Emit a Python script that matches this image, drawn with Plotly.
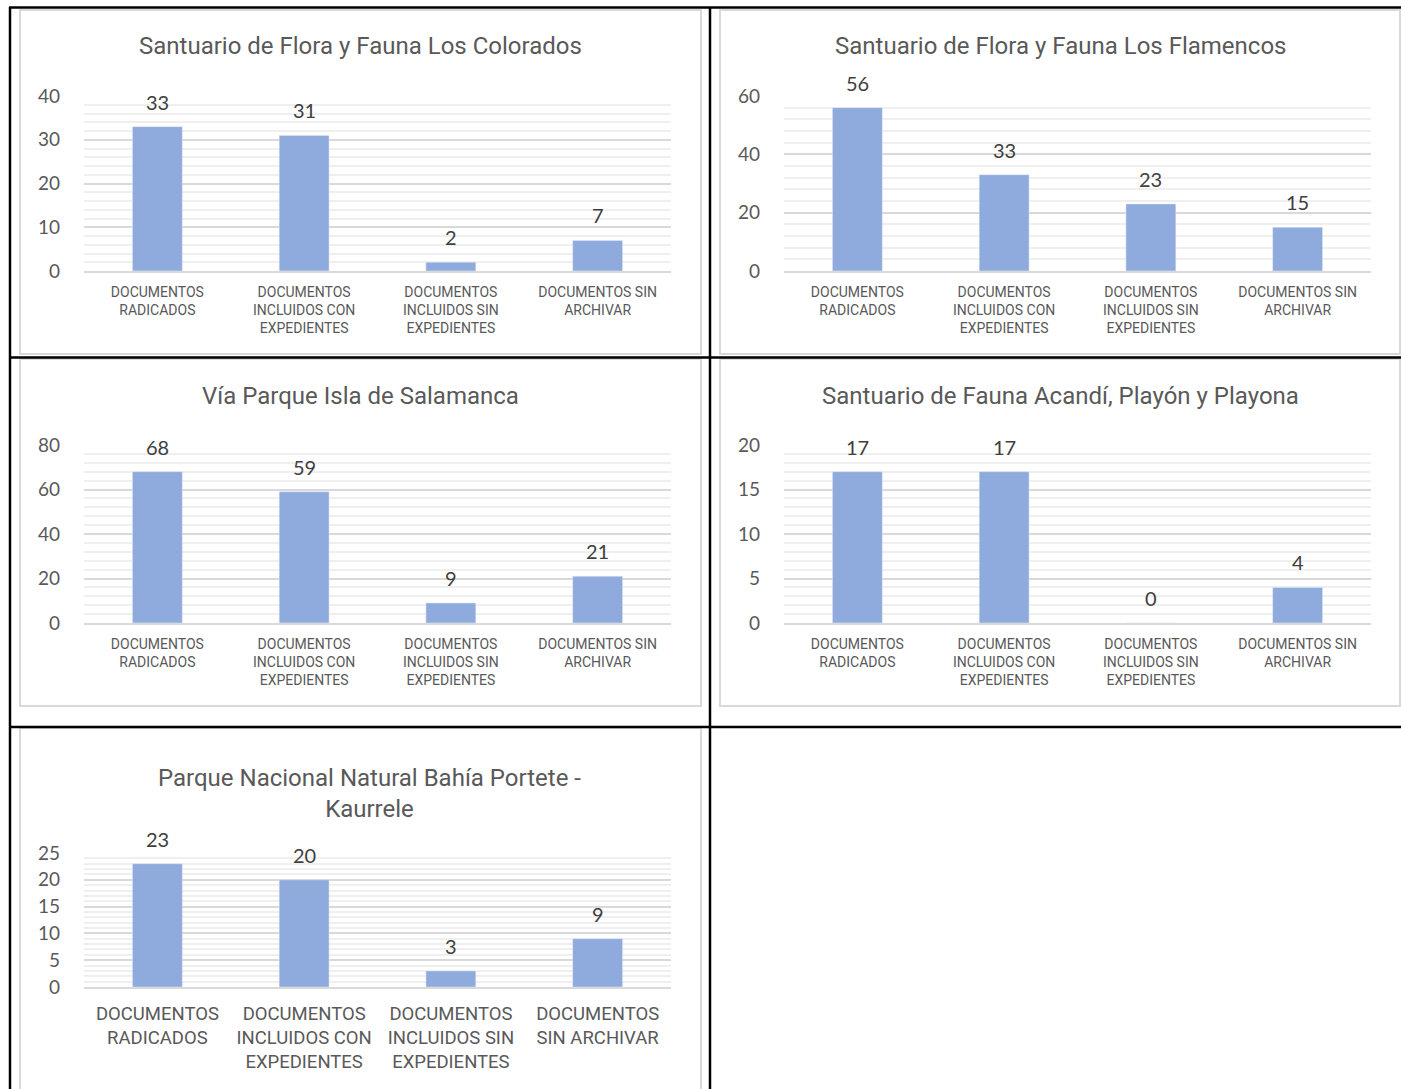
import plotly.graph_objects as go

W, H = 1401, 1089

# data
titles = [
    "Santuario de Flora y Fauna Los Colorados",
    "Santuario de Flora y Fauna Los Flamencos",
    "Vía Parque Isla de Salamanca",
    "Santuario de Fauna Acandí, Playón y Playona",
    "Parque Nacional Natural Bahía Portete -<br>Kaurrele",
]
categories = [
    "DOCUMENTOS<br>RADICADOS",
    "DOCUMENTOS<br>INCLUIDOS CON<br>EXPEDIENTES",
    "DOCUMENTOS<br>INCLUIDOS SIN<br>EXPEDIENTES",
    "DOCUMENTOS SIN<br>ARCHIVAR",
]
categories_wide = [
    "DOCUMENTOS<br>RADICADOS",
    "DOCUMENTOS<br>INCLUIDOS CON<br>EXPEDIENTES",
    "DOCUMENTOS<br>INCLUIDOS SIN<br>EXPEDIENTES",
    "DOCUMENTOS<br>SIN ARCHIVAR",
]
colorados = [33, 31, 2, 7]
flamencos = [56, 33, 23, 15]
salamanca = [68, 59, 9, 21]
acandi = [17, 17, 0, 4]
portete = [23, 20, 3, 9]

series = [colorados, flamencos, salamanca, acandi, portete]
labels = [categories, categories, categories, categories, categories_wide]
y_max = [40, 60, 80, 20, 25]
y_major = [10, 20, 20, 5, 5]
y_minor = [2, 4, 4, 1, 1]

# layout in pixels: plot area (x0, x1, ytop, ybottom), title pos, panel box
plot_px = [
    (84, 671, 96, 271),
    (784, 1371, 96, 271),
    (84, 671, 445, 623),
    (784, 1371, 445, 623),
    (84, 671, 853, 987),
]
title_px = [(360, 46), (1060, 46), (360, 396), (1060, 396), (370, 793)]
box_px = [
    (20, 10, 701, 354),
    (720, 10, 1400, 354),
    (20, 359, 701, 706),
    (720, 359, 1400, 706),
    (20, 728, 701, 1100),
]

BAR = "#8FAADC"
NARROW = "Liberation Sans Narrow, Arial Narrow, Roboto, sans-serif"
ROUND = "Lato, Carlito, Calibri, sans-serif"

fig = go.Figure()
annotations = []
shapes = []

for i in range(5):
    n = "" if i == 0 else str(i + 1)
    x0, x1, yt, yb = plot_px[i]
    big = i == 4
    fig.add_trace(go.Bar(
        x=labels[i], y=series[i], marker_color=BAR,
        xaxis="x" + n, yaxis="y" + n, showlegend=False, hoverinfo="skip",
    ))
    fig.layout["xaxis" + n] = dict(
        domain=[x0 / W, x1 / W], anchor="y" + n, type="category",
        showgrid=False, showline=True, linecolor="#D9D9D9", linewidth=2,
        ticks="", ticklabelstandoff=9 if big else 7, tickangle=0, automargin=False,
        tickfont=dict(family=NARROW, size=18.5 if big else 14, color="#595959"),
    )
    fig.layout["yaxis" + n] = dict(
        domain=[1 - yb / H, 1 - yt / H], anchor="x" + n,
        range=[0, y_max[i]], dtick=y_major[i], tick0=0, automargin=False,
        showgrid=True, gridcolor="#D9D9D9", gridwidth=2,
        zeroline=False, showline=False, ticks="", ticklabelstandoff=23,
        minor=dict(dtick=y_minor[i], showgrid=True, gridcolor="#EFEFEF", gridwidth=1.5),
        tickfont=dict(family=ROUND, size=19, color="#595959"),
    )
    for c, v in zip(labels[i], series[i]):
        annotations.append(dict(
            x=c, y=v, xref="x" + n, yref="y" + n, text=str(v), showarrow=False,
            yshift=25, yanchor="middle",
            font=dict(family=ROUND, size=20, color="#404040"),
        ))
    tx, ty = title_px[i]
    annotations.append(dict(
        x=tx / W, y=1 - ty / H, xref="paper", yref="paper", text=titles[i],
        showarrow=False, xanchor="center", yanchor="middle",
        font=dict(family=NARROW, size=24, color="#595959"),
    ))
    bx0, by0, bx1, by1 = box_px[i]
    shapes.append(dict(
        type="rect", xref="paper", yref="paper", layer="below",
        x0=bx0 / W, x1=bx1 / W, y0=1 - by1 / H, y1=1 - by0 / H,
        line=dict(color="#D9D9D9", width=2), fillcolor="white",
    ))

# black table borders
black = dict(color="black", width=2.5)
for (ax, ay, bx, by) in [
    (9, 7.5, 1401, 7.5),
    (9, 357.5, 1401, 357.5),
    (9, 727, 1401, 727),
    (10, 7, 10, 1089),
    (710, 7, 710, 1089),
]:
    shapes.append(dict(
        type="line", xref="paper", yref="paper",
        x0=ax / W, x1=bx / W, y0=1 - ay / H, y1=1 - by / H, line=black,
    ))

fig.update_layout(
    width=W, height=H, margin=dict(l=0, r=0, t=0, b=0, autoexpand=False),
    paper_bgcolor="white", plot_bgcolor="rgba(0,0,0,0)",
    bargap=0.66, annotations=annotations, shapes=shapes,
)

fig.write_html("out.html", config={"displayModeBar": False},
               post_script="document.body.style.margin='0';")
